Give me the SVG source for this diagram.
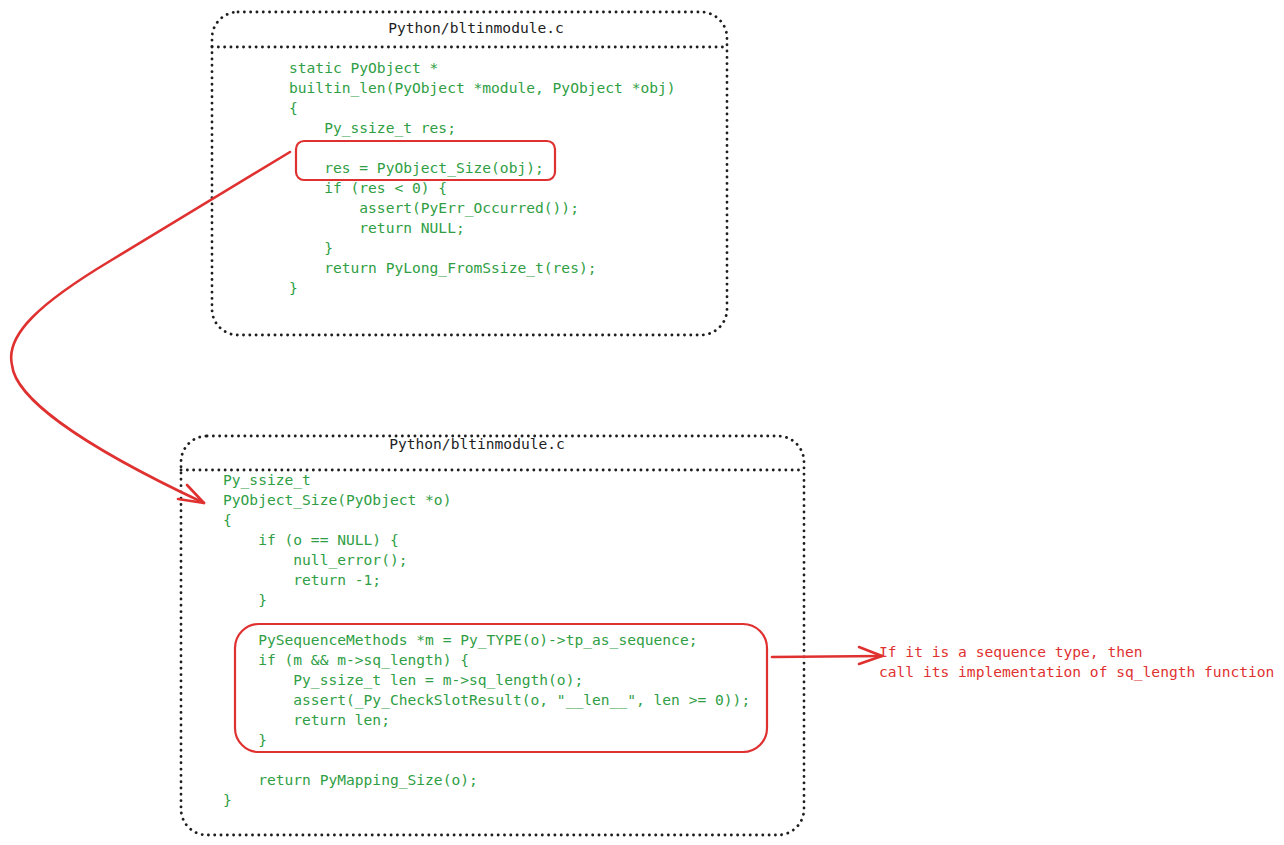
<svg xmlns="http://www.w3.org/2000/svg" width="1284" height="845" viewBox="0 0 1284 845">
<defs>
<style>
.frame{fill:none;stroke:#1e1e1e;stroke-width:2.8;stroke-dasharray:0.1 6.2;stroke-linecap:round}
.title{font-family:"DejaVu Sans Mono","Liberation Mono",monospace;font-size:14.6px;fill:#1e1e1e;text-anchor:middle}
.code{font-family:"DejaVu Sans Mono","Liberation Mono",monospace;font-size:14.6px;fill:#2f9e44;white-space:pre}
.note{font-family:"DejaVu Sans Mono","Liberation Mono",monospace;font-size:14.6px;fill:#e03131;white-space:pre}
.hl{fill:none;stroke:#e03131;stroke-width:2.2}
.conn{fill:none;stroke:#e03131;stroke-width:2.6;stroke-linecap:round;stroke-linejoin:round}
</style>
</defs>
<rect width="1284" height="845" fill="#ffffff"/>
<g id="box1">
<rect class="frame" x="212" y="12" width="515" height="323" rx="26"/>
<line class="frame" x1="212" y1="47" x2="727" y2="47"/>
<text class="title" x="476" y="33">Python/bltinmodule.c</text>
<text class="code" x="289" y="73">static PyObject *</text>
<text class="code" x="289" y="93">builtin_len(PyObject *module, PyObject *obj)</text>
<text class="code" x="289" y="113">{</text>
<text class="code" x="289" y="133">    Py_ssize_t res;</text>
<text class="code" x="289" y="173">    res = PyObject_Size(obj);</text>
<text class="code" x="289" y="193">    if (res &lt; 0) {</text>
<text class="code" x="289" y="213">        assert(PyErr_Occurred());</text>
<text class="code" x="289" y="233">        return NULL;</text>
<text class="code" x="289" y="253">    }</text>
<text class="code" x="289" y="273">    return PyLong_FromSsize_t(res);</text>
<text class="code" x="289" y="293">}</text>
</g>
<g id="highlight1">
<rect class="hl" x="296" y="141" width="259" height="39" rx="8"/>
</g>
<g id="box2">
<rect class="frame" x="181" y="436" width="623" height="399" rx="26"/>
<line class="frame" x1="181" y1="470" x2="804" y2="470"/>
<text class="title" x="477" y="449">Python/bltinmodule.c</text>
<text class="code" x="223" y="485">Py_ssize_t</text>
<text class="code" x="223" y="505">PyObject_Size(PyObject *o)</text>
<text class="code" x="223" y="525">{</text>
<text class="code" x="223" y="545">    if (o == NULL) {</text>
<text class="code" x="223" y="565">        null_error();</text>
<text class="code" x="223" y="585">        return -1;</text>
<text class="code" x="223" y="605">    }</text>
<text class="code" x="223" y="645">    PySequenceMethods *m = Py_TYPE(o)-&gt;tp_as_sequence;</text>
<text class="code" x="223" y="665">    if (m &amp;&amp; m-&gt;sq_length) {</text>
<text class="code" x="223" y="685">        Py_ssize_t len = m-&gt;sq_length(o);</text>
<text class="code" x="223" y="705">        assert(_Py_CheckSlotResult(o, "__len__", len &gt;= 0));</text>
<text class="code" x="223" y="725">        return len;</text>
<text class="code" x="223" y="745">    }</text>
<text class="code" x="223" y="785">    return PyMapping_Size(o);</text>
<text class="code" x="223" y="805">}</text>
</g>
<g id="highlight2">
<rect class="hl" x="235" y="624" width="532" height="128" rx="24"/>
</g>
<g id="note">
<text class="note" x="879" y="657">If it is a sequence type, then</text>
<text class="note" x="879" y="677">call its implementation of sq_length function</text>
</g>
<g id="connectors">
<path class="conn" d="M 290 152 L 110 261 C 40 303, 5 335, 12 365 C 15 395, 70 440, 204 503"/>
<path class="conn" d="M 187 485 L 204 503 L 178 499"/>
<path class="conn" d="M 772 657 L 882 656"/>
<path class="conn" d="M 859 647 L 882 656 L 859 664"/>
</g>
</svg>
